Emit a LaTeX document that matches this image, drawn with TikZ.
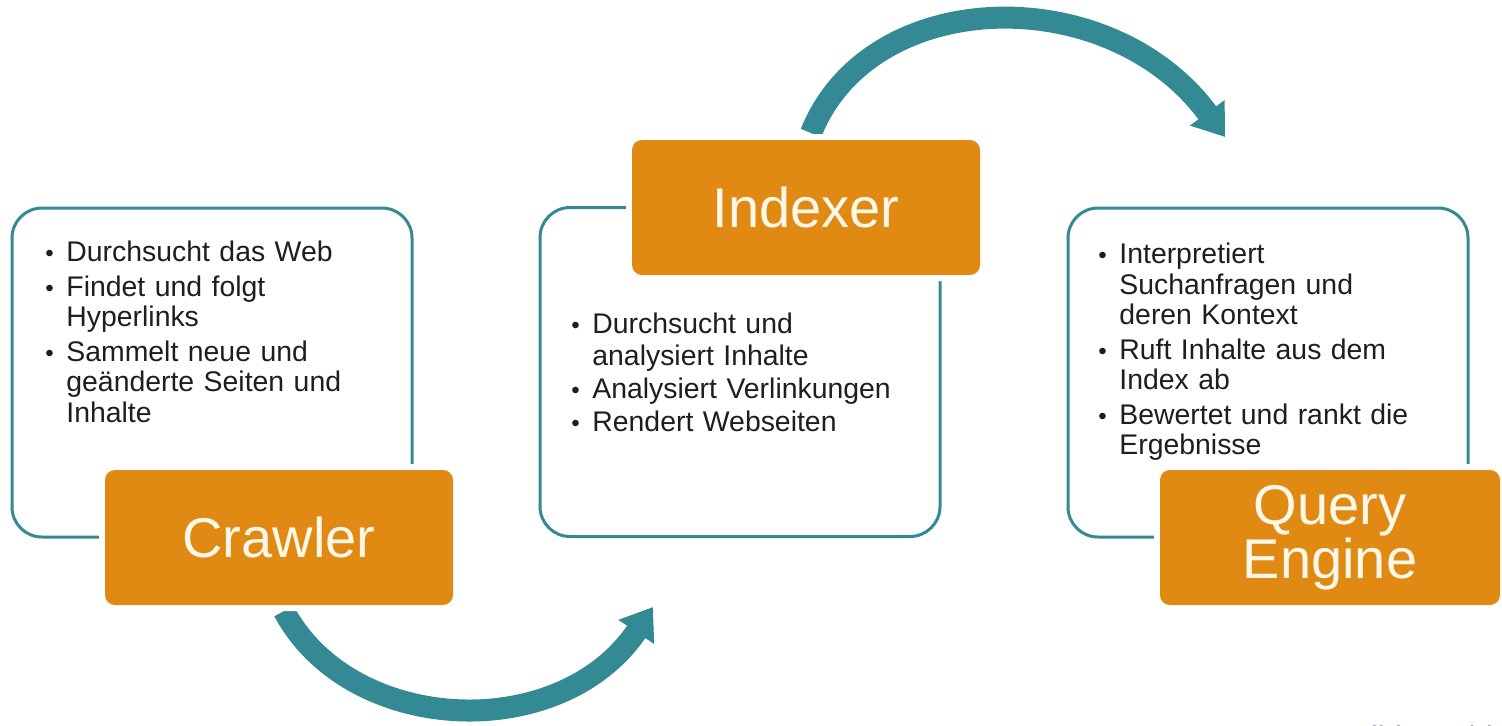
\documentclass[tikz,border=0pt]{standalone}
\usepackage{fontspec}
\setmainfont{Liberation Sans}
\usetikzlibrary{arrows.meta}
\definecolor{teal}{RGB}{52,138,148}
\definecolor{orng}{RGB}{224,138,20}
\definecolor{cream}{RGB}{255,248,232}
\definecolor{bodytxt}{RGB}{30,30,30}
\definecolor{credit}{RGB}{25,60,160}
\newcommand\nl{\hfil\penalty-10000\relax}
\newcommand\itemgap{2pt}
\newcommand\bitem[1]{\par\hangindent=10.5pt\hangafter=1\noindent\makebox[10.5pt][l]{\scalebox{0.85}{\textbullet}}#1\par\vskip\itemgap}
\tikzset{
  panel/.style={draw=teal, line width=1.5pt, rounded corners=15pt, minimum width=200pt, minimum height=164.5pt, inner sep=0pt},
  lab/.style={fill=orng, rounded corners=5pt, inner sep=0pt, text=cream, font=\fontsize{28}{26}\selectfont, align=center,
    preaction={draw=white, line width=6pt, rounded corners=5pt}},
  body/.style={anchor=north west, inner sep=0pt, text width=175pt, align=left, text=bodytxt,
    font=\fontsize{14.2}{15.25}\selectfont},
  arr/.style={draw=teal, line width=11pt, -{Triangle[width=20.5pt,length=15pt]}}
}
\begin{document}
\begin{tikzpicture}[x=0.5pt,y=-0.5pt]
\clip (0,0) rectangle (1502,725);
\fill[white] (0,0) rectangle (1502,725);
% arrows
\coordinate (a1s) at (284,611);
\coordinate (a1e) at (653,607);
\coordinate (a2s) at (811,133);
\coordinate (a2e) at (1225,137);
\draw[arr] (a1s) .. controls (350,735) and (560,745) .. (a1e);
\draw[arr] (a2s) .. controls (870,-15) and (1110,-20) .. (a2e);
% panels
\node[panel] (p1) at (212,372.5) {};
\node[panel] (p2) at (740,372) {};
\node[panel] (p3) at (1268,372.5) {};
% body texts
\node[body] (t1) at (45,231) {%
\bitem{Durchsucht das Web}
\bitem{Findet und folgt\nl Hyperlinks}
\bitem{Sammelt neue und\nl geänderte Seiten und\nl Inhalte}};
\node[body, font=\fontsize{14.2}{16}\selectfont] (t2) at (571,301) {\renewcommand\itemgap{0.6pt}%
\bitem{Durchsucht und\nl analysiert Inhalte}
\bitem{Analysiert Verlinkungen}
\bitem{Rendert Webseiten}};
\node[body] (t3) at (1098,233) {%
\bitem{Interpretiert\nl Suchanfragen und\nl deren Kontext}
\bitem{Ruft Inhalte aus dem\nl Index ab}
\bitem{Bewertet und rankt die\nl Ergebnisse}};
% labels
\node[lab, minimum width=174pt, minimum height=67.5pt] (crawler) at (279,537.5) {Crawler};
\node[lab, minimum width=174pt, minimum height=67.5pt] (indexer) at (806,207.5) {Indexer};
\node[lab, minimum width=170pt, minimum height=67.5pt] (query) at (1330,537.5) {Query\\Engine};
% credit (cut off at the bottom edge)
\node[anchor=base west, inner sep=0pt, text=credit, font=\fontsize{15.5}{16}\selectfont] (cred) at (1350,748) {Bild: Archiv};
\end{tikzpicture}
\end{document}
